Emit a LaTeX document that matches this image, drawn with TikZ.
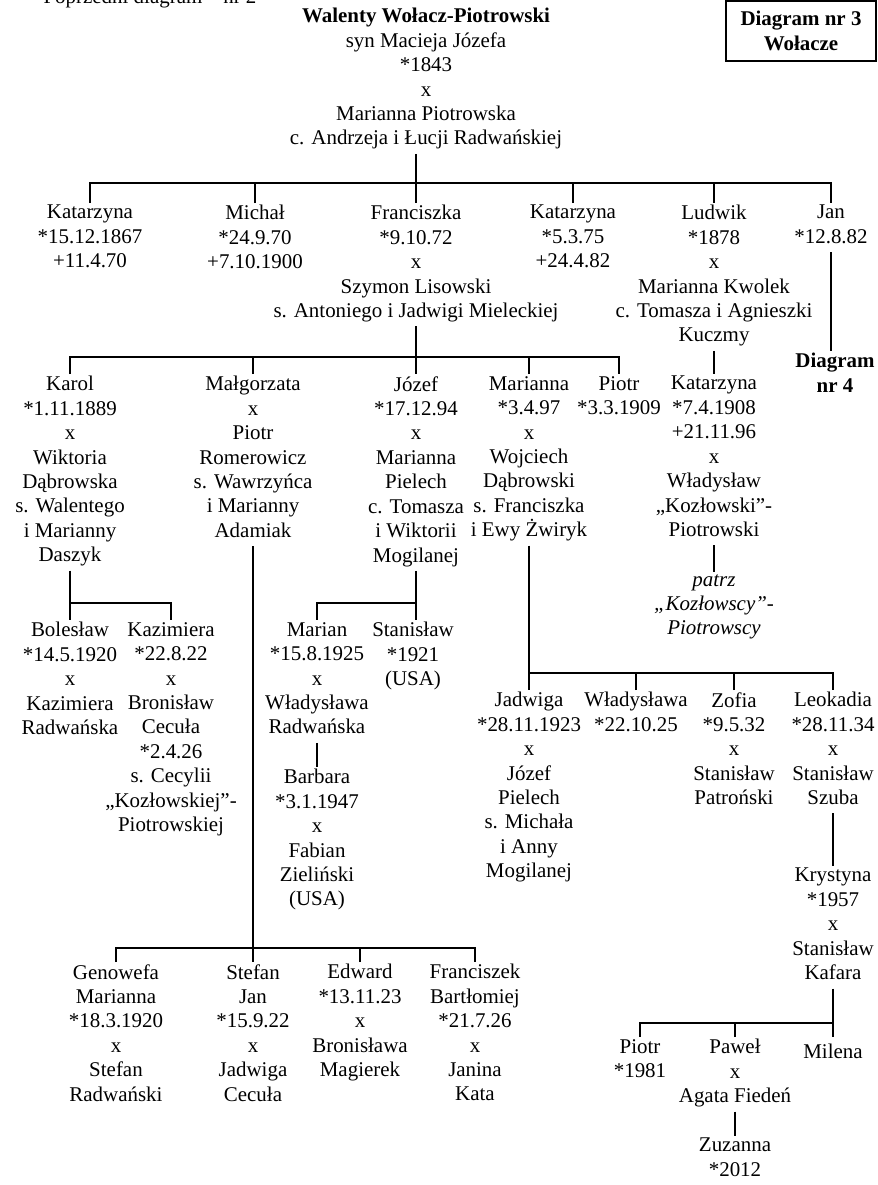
\documentclass[tikz,border=0pt]{standalone}
\usepackage{fontspec}
\setmainfont{Liberation Serif}
\usepackage{tikz}

\begin{document}
\begin{tikzpicture}[x=0.573pt, y=-0.573pt, line width=1pt,
	osoba/.style={align=center, anchor=north, inner xsep=0pt, inner ysep=0.8pt, font=\fontsize{12}{14}\selectfont,
		execute at begin node={\rule{0pt}{11pt}}, execute at end node={\rule[-3.8pt]{0pt}{3.8pt}}},
	gruby/.style={osoba, font=\fontsize{12}{14}\selectfont\bfseries},
	ramka/.style={draw, align=center, anchor=center, font=\fontsize{12}{14}\selectfont\bfseries,
		execute at begin node={\rule{0pt}{14.4pt}}, minimum width=86pt, minimum height=34.4pt}]
	\useasboundingbox (0,0) rectangle (878,1185);

	\node[anchor=base, font=\fontsize{12}{14}\selectfont](poprz) at (150,3) {Poprzedni diagram – nr 2};
	\node[osoba](walenty) at (426,6) {\textbf{Walenty Wołacz-Piotrowski}\\syn Macieja Józefa\\{}*1843\\x\\Marianna Piotrowska\\c. Andrzeja i Łucji Radwańskiej};
	\node[ramka](tytul) at (801,31) {Diagram nr 3\\Wołacze};

	\node[osoba](kat1) at (90,203) {Katarzyna\\{}*15.12.1867\\+11.4.70};
	\node[osoba](michal) at (255,203) {Michał\\{}*24.9.70\\+7.10.1900};
	\node[osoba](franc) at (416,203) {Franciszka\\{}*9.10.72\\x\\Szymon Lisowski\\s. Antoniego i Jadwigi Mieleckiej};
	\node[osoba](kat2) at (573,203) {Katarzyna\\{}*5.3.75\\+24.4.82};
	\node[osoba](ludwik) at (714,203) {Ludwik\\{}*1878\\x\\Marianna Kwolek\\c. Tomasza i Agnieszki\\Kuczmy};
	\node[osoba](jan) at (831,203) {Jan\\{}*12.8.82};

	\node[osoba](karol) at (70,374) {Karol\\{}*1.11.1889\\x\\Wiktoria\\Dąbrowska\\s. Walentego\\i Marianny\\Daszyk};
	\node[osoba](malg) at (253,374) {Małgorzata\\x\\Piotr\\Romerowicz\\s. Wawrzyńca\\i Marianny\\Adamiak};
	\node[osoba](jozef) at (416,374) {Józef\\{}*17.12.94\\x\\Marianna\\Pielech\\c. Tomasza\\i Wiktorii\\Mogilanej};
	\node[osoba](marianna) at (529,374) {Marianna\\{}*3.4.97\\x\\Wojciech\\Dąbrowski\\s. Franciszka\\i Ewy Żwiryk};
	\node[osoba](piotr) at (619,374) {Piotr\\{}*3.3.1909};
	\node[osoba](kat3) at (714,374) {Katarzyna\\{}*7.4.1908\\+21.11.96\\x\\Władysław\\„Kozłowski”-\\Piotrowski};
	\node[osoba, font=\fontsize{12}{14}\selectfont\itshape](patrz) at (714,572) {patrz\\„Kozłowscy”-\\Piotrowscy};
	\node[gruby](dn4) at (835,351) {Diagram\\nr 4};

	\node[osoba](bol) at (70,620) {Bolesław\\{}*14.5.1920\\x\\Kazimiera\\Radwańska};
	\node[osoba](kaz) at (171,620) {Kazimiera\\{}*22.8.22\\x\\Bronisław\\Cecuła\\{}*2.4.26\\s. Cecylii\\„Kozłowskiej”-\\Piotrowskiej};
	\node[osoba](marian) at (317,620) {Marian\\{}*15.8.1925\\x\\Władysława\\Radwańska};
	\node[osoba](stan) at (413,620) {Stanisław\\{}*1921\\(USA)};
	\node[osoba](barbara) at (317,767) {Barbara\\{}*3.1.1947\\x\\Fabian\\Zieliński\\(USA)};

	\node[osoba](jadwiga) at (529,690) {Jadwiga\\{}*28.11.1923\\x\\Józef\\Pielech\\s. Michała\\i Anny\\Mogilanej};
	\node[osoba](wladyslawa) at (636,690) {Władysława\\{}*22.10.25};
	\node[osoba](zofia) at (734,690) {Zofia\\{}*9.5.32\\x\\Stanisław\\Patroński};
	\node[osoba](leokadia) at (833,690) {Leokadia\\{}*28.11.34\\x\\Stanisław\\Szuba};
	\node[osoba](krystyna) at (833,866) {Krystyna\\{}*1957\\x\\Stanisław\\Kafara};

	\node[osoba](genowefa) at (116,962) {Genowefa\\Marianna\\{}*18.3.1920\\x\\Stefan\\Radwański};
	\node[osoba](stefan) at (253,962) {Stefan\\Jan\\{}*15.9.22\\x\\Jadwiga\\Cecuła};
	\node[osoba](edward) at (360,962) {Edward\\{}*13.11.23\\x\\Bronisława\\Magierek};
	\node[osoba](franciszek) at (475,962) {Franciszek\\Bartłomiej\\{}*21.7.26\\x\\Janina\\Kata};

	\node[osoba](piotrek) at (640,1037) {Piotr\\{}*1981};
	\node[osoba](pawel) at (735,1037) {Paweł\\x\\Agata Fiedeń};
	\node[osoba](milena) at (833,1037) {Milena};
	\node[osoba](zuzanna) at (735,1136) {Zuzanna\\{}*2012};

	\coordinate (r1) at (416,183);
	\coordinate (r2) at (416,357);
	\coordinate (r3) at (70,603);
	\coordinate (r4) at (416,603);
	\coordinate (r5) at (529,673);
	\coordinate (r6) at (253,948);
	\coordinate (r7) at (833,1023);

	\draw (r1 |- walenty.south) -- (r1) -- (franc.north);
	\draw (kat1.north) |- (r1) -| (jan.north);
	\draw (michal.north) -- (michal.north |- r1);
	\draw (kat2.north) -- (kat2.north |- r1);
	\draw (ludwik.north) -- (ludwik.north |- r1);

	\draw (franc.south) -- (r2) -- (jozef.north);
	\draw (karol.north) |- (r2) -| (piotr.north);
	\draw (malg.north) -- (malg.north |- r2);
	\draw (marianna.north) -- (marianna.north |- r2);
	\draw (ludwik.south) -- (kat3.north);
	\draw (kat3.south) -- (patrz.north);
	\draw (jan.south) -- (jan.south |- dn4.north);

	\draw (karol.south) -- (bol.north);
	\draw (r3) -| (kaz.north);
	\draw (jozef.south) -- (jozef.south |- stan.north);
	\draw (r4) -| (marian.north);
	\draw (marian.south) -- (barbara.north);

	\draw (marianna.south) -- (jadwiga.north);
	\draw (r5) -| (leokadia.north);
	\draw (wladyslawa.north) -- (wladyslawa.north |- r5);
	\draw (zofia.north) -- (zofia.north |- r5);
	\draw (leokadia.south) -- (krystyna.north);

	\draw (malg.south) -- (stefan.north);
	\draw (genowefa.north) |- (r6) -| (franciszek.north);
	\draw (edward.north) -- (edward.north |- r6);

	\draw (krystyna.south) -- (milena.north);
	\draw (r7) -| (piotrek.north);
	\draw (pawel.north) -- (pawel.north |- r7);
	\draw (pawel.south) -- (zuzanna.north);
\end{tikzpicture}
\end{document}
